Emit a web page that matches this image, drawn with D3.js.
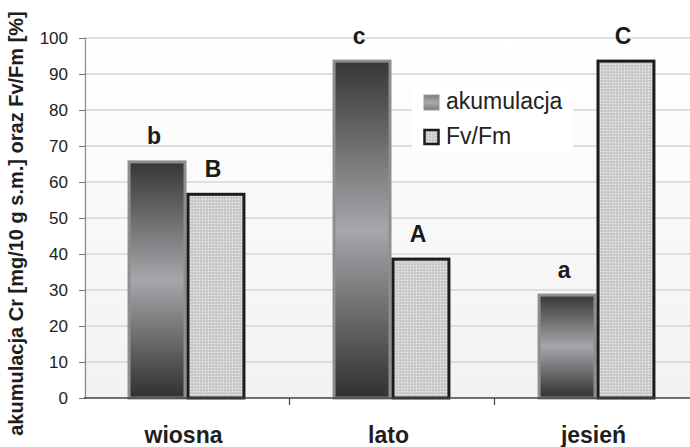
<!DOCTYPE html>
<html>
<head>
<meta charset="utf-8">
<script src="https://cdn.jsdelivr.net/npm/d3@7"></script>
<style>
  html, body { margin: 0; padding: 0; background: #fff; }
  svg { display: block; font-family: "Liberation Sans", Arial, sans-serif; }
</style>
</head>
<body>
<svg id="chart" width="690" height="447"></svg>
<script>
// Seasons and the two measured series
const categories = ["wiosna", "lato", "jesień"];
const seriesNames = ["akumulacja", "Fv/Fm"];
const akumulacja = [66, 94, 29];
const fvfm = [57, 39, 94];
// Significance letters above each bar
const akumulacjaLetters = ["b", "c", "a"];
const fvfmLetters = ["B", "A", "C"];
const yTicks = [0, 10, 20, 30, 40, 50, 60, 70, 80, 90, 100];
const yTitle = "akumulacja Cr [mg/10 g s.m.] oraz Fv/Fm [%]";

const svg = d3.select("#chart");
const W = 690, H = 447;
const plot = { left: 84, right: 699, top: 38, bottom: 398 };

const x0 = d3.scaleBand().domain(categories).range([plot.left, plot.right]).padding(0);
const gap = x0.bandwidth() * 0.2125;
const x1 = d3.scaleBand().domain(seriesNames).range([gap, x0.bandwidth() - gap]).padding(0);
const y = d3.scaleLinear().domain([0, 100]).range([plot.bottom, plot.top]);

const defs = svg.append("defs");

// plot background: white fading to a faint grey
const bg = defs.append("linearGradient").attr("id", "bgGrad")
  .attr("x1", 0).attr("y1", 0).attr("x2", 0).attr("y2", 1);
bg.append("stop").attr("offset", "0%").attr("stop-color", "#ffffff");
bg.append("stop").attr("offset", "100%").attr("stop-color", "#f1f2f1");

// metallic bar fill: dark - light - dark
const mg = defs.append("linearGradient").attr("id", "metal")
  .attr("x1", 0).attr("y1", 0).attr("x2", 0).attr("y2", 1);
mg.append("stop").attr("offset", "0%").attr("stop-color", "#363636");
mg.append("stop").attr("offset", "50%").attr("stop-color", "#a5a7aa");
mg.append("stop").attr("offset", "100%").attr("stop-color", "#303030");

const lg = defs.append("linearGradient").attr("id", "metalKey")
  .attr("x1", 0).attr("y1", 0).attr("x2", 0).attr("y2", 1);
lg.append("stop").attr("offset", "0%").attr("stop-color", "#7e7e7e");
lg.append("stop").attr("offset", "50%").attr("stop-color", "#a9a9a9");
lg.append("stop").attr("offset", "100%").attr("stop-color", "#7e7e7e");

// stippled fill
const pat = defs.append("pattern").attr("id", "dots")
  .attr("width", 3).attr("height", 3).attr("patternUnits", "userSpaceOnUse");
pat.append("rect").attr("width", 3).attr("height", 3).attr("fill", "#c9c9c9");
pat.append("rect").attr("x", 1).attr("y", 1).attr("width", 1.2).attr("height", 1.2).attr("fill", "#f2f2f2");

// plot area
svg.append("rect")
  .attr("x", plot.left).attr("y", plot.top)
  .attr("width", W - plot.left).attr("height", plot.bottom - plot.top)
  .attr("fill", "url(#bgGrad)");

// gridlines
svg.append("g").selectAll("line").data(yTicks.filter(d => d > 0)).join("line")
  .attr("x1", plot.left).attr("x2", W)
  .attr("y1", d => y(d)).attr("y2", d => y(d))
  .attr("stroke", "#d6d6d6").attr("stroke-width", 1.5);

// y axis
const yAxis = svg.append("g").attr("transform", `translate(${plot.left + 1},0)`)
  .call(d3.axisLeft(y).tickValues(yTicks).tickSize(6).tickPadding(11));
yAxis.select(".domain").attr("stroke", "#8a8a8a").attr("stroke-width", 1.2);
yAxis.selectAll(".tick line").attr("stroke", "#777");
yAxis.selectAll(".tick text")
  .attr("font-size", 17).attr("fill", "#222").attr("font-family", "Liberation Sans, Arial, sans-serif");

// bars
const rows = categories.map((c, i) => ({ cat: c, values: [akumulacja[i], fvfm[i]], letters: [akumulacjaLetters[i], fvfmLetters[i]] }));
const groups = svg.append("g").selectAll("g").data(rows).join("g")
  .attr("transform", d => `translate(${x0(d.cat)},0)`);

groups.append("rect")
  .attr("x", x1("akumulacja") + 1.5)
  .attr("y", d => y(d.values[0]) + 1.5)
  .attr("width", x1.bandwidth() - 3)
  .attr("height", d => y(0) - y(d.values[0]) - 1.5)
  .attr("fill", "url(#metal)")
  .attr("stroke", "#8e8e8e").attr("stroke-width", 3);

groups.append("rect")
  .attr("x", x1("Fv/Fm") + 1.5)
  .attr("y", d => y(d.values[1]) + 1.5)
  .attr("width", x1.bandwidth() - 3)
  .attr("height", d => y(0) - y(d.values[1]) - 1.5)
  .attr("fill", "url(#dots)")
  .attr("stroke", "#1c1c1c").attr("stroke-width", 3);

// letters above bars
seriesNames.forEach((s, k) => {
  groups.append("text")
    .attr("x", x1(s) + x1.bandwidth() / 2 - 3)
    .attr("y", d => y(d.values[k]) - 16)
    .attr("text-anchor", "middle")
    .attr("font-size", 23).attr("font-weight", "bold").attr("fill", "#1a1a1a")
    .text(d => d.letters[k]);
});

// x axis
const xAxis = svg.append("g").attr("transform", `translate(0,${plot.bottom})`);
xAxis.append("line").attr("x1", plot.left).attr("x2", W)
  .attr("stroke", "#444").attr("stroke-width", 1.3);
xAxis.selectAll("line.tk").data(categories.slice(1)).join("line").attr("class", "tk")
  .attr("x1", d => x0(d) + 0.5).attr("x2", d => x0(d) + 0.5)
  .attr("y1", 0).attr("y2", 7).attr("stroke", "#444").attr("stroke-width", 1.2);
xAxis.selectAll("text").data(categories).join("text")
  .attr("x", d => x0(d) + x0.bandwidth() / 2 - 3)
  .attr("y", 45)
  .attr("text-anchor", "middle")
  .attr("font-size", 23).attr("font-weight", "bold").attr("fill", "#1e1e1e")
  .text(d => d);

// y axis title
svg.append("text")
  .attr("transform", "translate(22.5,223.5) rotate(-90)")
  .attr("text-anchor", "middle")
  .attr("font-size", 20).attr("font-weight", "bold").attr("fill", "#1e1e1e")
  .text(yTitle);

// legend
const legend = svg.append("g").attr("transform", "translate(412,83)");
legend.append("rect").attr("width", 161).attr("height", 70).attr("fill", "#fff");
legend.append("rect").attr("x", 12).attr("y", 12).attr("width", 15).attr("height", 15)
  .attr("fill", "url(#metalKey)").attr("stroke", "#999").attr("stroke-width", 1);
legend.append("rect").attr("x", 12.5).attr("y", 47).attr("width", 14).attr("height", 14)
  .attr("fill", "url(#dots)").attr("stroke", "#1c1c1c").attr("stroke-width", 2.5);
legend.selectAll("text.lab").data(seriesNames).join("text").attr("class", "lab")
  .attr("x", 34).attr("y", (d, i) => 26 + i * 35)
  .attr("font-size", 23).attr("fill", "#222")
  .text(d => d);
</script>
</body>
</html>
